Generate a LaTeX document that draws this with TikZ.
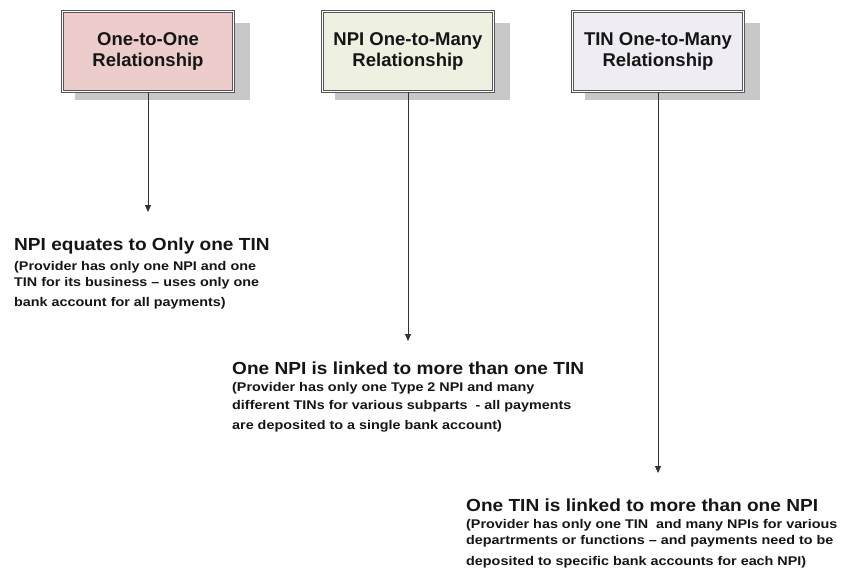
\documentclass[tikz,border=0pt]{standalone}
\usepackage{fontspec}
\setmainfont{Liberation Sans}
\newfontfamily\ttlfont{Liberation Sans Bold}[FakeStretch=1.09]
\newfontfamily\subfont{Liberation Sans Bold}[FakeStretch=1.14]
\usetikzlibrary{arrows.meta}
\definecolor{pinkfill}{HTML}{EDCDCC}
\definecolor{greenfill}{HTML}{EEF0E2}
\definecolor{lilacfill}{HTML}{EFEDF3}
\definecolor{shadowgray}{HTML}{C8C8C8}
\definecolor{edgegray}{HTML}{555555}
\definecolor{inkblack}{HTML}{151515}
\tikzset{
  relbox/.style={draw=edgegray, double=white, double distance=1.6pt, line width=0.9pt,
    minimum width=171pt, minimum height=80pt, inner sep=0pt, align=center,
    font=\bfseries\fontsize{18.5}{21}\selectfont, text=inkblack},
  conn/.style={draw=black!80, line width=0.8pt, -{Triangle[length=7pt,width=6pt]}},
  ttl/.style={anchor=base west, inner sep=0pt, font=\ttlfont\fontsize{17.5}{20}\selectfont, text=inkblack},
  sub/.style={anchor=base west, inner sep=0pt, font=\subfont\fontsize{12.6}{15}\selectfont, text=inkblack}
}
\begin{document}
\begin{tikzpicture}[x=1pt,y=-1pt]
\useasboundingbox (0,0) rectangle (843,570);
% shadows
\fill[shadowgray] (75,23) rectangle (250,100);
\fill[shadowgray] (335,23) rectangle (510,100);
\fill[shadowgray] (585,23) rectangle (760,100);
% boxes
\node[relbox, fill=pinkfill] (b1) at (148,51.5) {One-to-One\\Relationship};
\node[relbox, fill=greenfill] (b2) at (408,51.5) {NPI One-to-Many\\Relationship};
\node[relbox, fill=lilacfill] (b3) at (658,51.5) {TIN One-to-Many\\Relationship};
% arrow targets
\coordinate (e1) at (148,212);
\coordinate (e2) at (408,341);
\coordinate (e3) at (658,473);
\draw[conn] (b1.south) -- (e1);
\draw[conn] (b2.south) -- (e2);
\draw[conn] (b3.south) -- (e3);
% texts set 1
\node[ttl] (t1) at (14,250.5) {NPI equates to Only one TIN};
\node[sub] (s1a) at (14,270) {(Provider has only one NPI and one};
\node[sub] (s1b) at (14,286) {TIN for its business \textendash{} uses only one};
\node[sub] (s1c) at (14,306) {bank account for all payments)};
% set 2
\node[ttl] (t2) at (232,374) {One NPI is linked to more than one TIN};
\node[sub] (s2a) at (232,391.5) {(Provider has only one Type 2 NPI and many};
\node[sub] (s2b) at (232,409) {different TINs for various subparts\ \ - all payments};
\node[sub] (s2c) at (232,429) {are deposited to a single bank account)};
% set 3
\node[ttl] (t3) at (466,511.5) {One TIN is linked to more than one NPI};
\node[sub] (s3a) at (466,528.5) {(Provider has only one TIN\ \ and many NPIs for various};
\node[sub] (s3b) at (466,544.5) {departrments or functions \textendash{} and payments need to be};
\node[sub] (s3c) at (466,565) {deposited to specific bank accounts for each NPI)};
\end{tikzpicture}
\end{document}
